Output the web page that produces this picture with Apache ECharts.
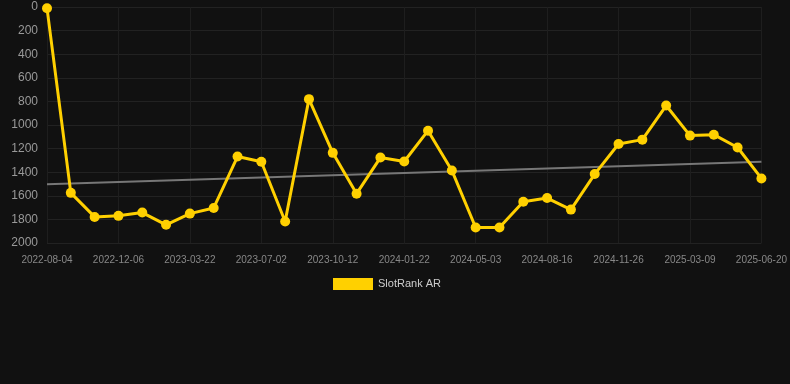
<!DOCTYPE html>
<html>
<head>
<meta charset="utf-8">
<script src="https://cdn.jsdelivr.net/npm/echarts@6/dist/echarts.min.js"></script>
<style>html,body{margin:0;padding:0;background:#111111;}#c{width:790px;height:384px;}</style>
</head>
<body>
<div id="c"></div>
<script>
const categories = ["2022-08-04","2022-09-15","2022-10-26","2022-12-06","2023-01-10","2023-02-15","2023-03-22","2023-04-25","2023-05-29","2023-07-02","2023-08-05","2023-09-08","2023-10-12","2023-11-15","2023-12-19","2024-01-22","2024-02-25","2024-03-30","2024-05-03","2024-06-07","2024-07-12","2024-08-16","2024-09-19","2024-10-23","2024-11-26","2024-12-30","2025-02-03","2025-03-09","2025-04-12","2025-05-16","2025-06-20"];
const rankValues = [10,1575,1779,1770,1742,1846,1751,1703,1267,1312,1818,781,1236,1582,1276,1309,1048,1385,1869,1869,1650,1619,1717,1416,1161,1124,835,1090,1082,1191,1453];
const trendStart = 1503;
const trendEnd = 1312;
const yTicks = [0,200,400,600,800,1000,1200,1400,1600,1800,2000];

const trendData = categories.map((c, i) => i === 0 ? trendStart : (i === categories.length - 1 ? trendEnd : null));

const chart = echarts.init(document.getElementById('c'));
chart.setOption({
  backgroundColor: '#111111',
  animation: false,
  grid: {left: 47, right: 28, top: 7, bottom: 141, containLabel: false},
  legend: {
    bottom: 89, left: 328,
    data: ['SlotRank AR'],
    itemWidth: 40, itemHeight: 12, icon: 'rect', itemGap: 6,
    textStyle: {color: '#cccccc', fontSize: 11, fontFamily: 'Liberation Sans, Arial, sans-serif'}
  },
  xAxis: {
    type: 'category',
    data: categories,
    boundaryGap: false,
    axisLine: {show: false},
    axisTick: {show: false},
    axisLabel: {color: '#888888', fontSize: 10, interval: 2, margin: 12, fontFamily: 'Liberation Sans, Arial, sans-serif'},
    splitLine: {show: true, interval: 2, lineStyle: {color: '#1e1e1e'}}
  },
  yAxis: {
    type: 'value',
    inverse: true,
    min: yTicks[0], max: yTicks[yTicks.length - 1], interval: 200,
    axisLine: {show: false},
    axisTick: {show: false},
    axisLabel: {color: '#999999', fontSize: 12, margin: 9, fontFamily: 'Liberation Sans, Arial, sans-serif', formatter: v => String(v)},
    splitLine: {lineStyle: {color: '#222222'}}
  },
  series: [
    {
      name: 'SlotRank AR',
      type: 'line',
      data: rankValues,
      symbol: 'circle',
      symbolSize: 10,
      lineStyle: {color: '#ffd000', width: 3},
      itemStyle: {color: '#ffd000'},
      z: 3
    },
    {
      name: 'trend',
      type: 'line',
      data: trendData,
      connectNulls: true,
      symbol: 'none',
      lineStyle: {color: '#777777', width: 2},
      z: 2
    }
  ]
});
</script>
</body>
</html>
